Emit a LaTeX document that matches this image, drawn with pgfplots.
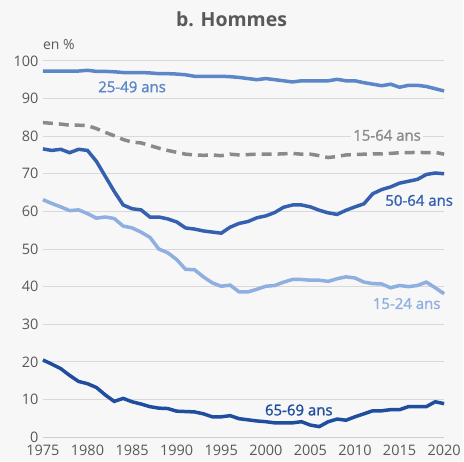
\documentclass[border=0pt]{standalone}
\usepackage{pgfplots}
\pgfplotsset{compat=1.18}
\usepackage{fontspec}
\setmainfont{Open Sans}
\newfontfamily\semib[FakeBold=1.3]{Open Sans}
\definecolor{bg}{HTML}{F7F7F7}
\definecolor{txt}{HTML}{595959}
\definecolor{grd}{HTML}{D9D9D9}
\definecolor{cA}{HTML}{5B87C9}
\definecolor{cB}{HTML}{3560B0}
\definecolor{cC}{HTML}{8FAFE0}
\definecolor{cD}{HTML}{1F4E9F}
\definecolor{cE}{HTML}{8A8A8A}
\begin{document}
\begin{tikzpicture}[x=1pt,y=1pt]
\fill[bg] (-43,-24) rectangle (421,438);
\begin{axis}[
  at={(0,0)}, anchor=south west,
  scale only axis, width=402pt, height=377pt,
  xmin=1975, xmax=2020, ymin=0, ymax=100,
  xtick={1975,1980,...,2020}, ytick={0,10,...,100},
  x tick label style={/pgf/number format/1000 sep={}},
  /pgf/number format/assume math mode=true,
  tick label style={font=\fontsize{14.5}{16}\selectfont, text=txt},
  xticklabel style={yshift=-4pt},
  yticklabel style={xshift=-1pt},
  major tick length=0pt,
  axis line style={draw=none},
  ymajorgrids, grid style={grd, line width=1pt},
  clip=false,
]
\draw[grd!80!black!60, line width=1pt] (axis cs:1975,0) -- (axis cs:2020,0);
% 15-64
\addplot[cE, line width=3.5pt, dash pattern=on 10pt off 6pt] coordinates {
(1975,83.6)(1976,83.4)(1977,83.2)(1978,82.9)(1979,82.9)(1980,82.8)(1981,82.0)(1982,81.0)(1983,80.1)(1984,79.1)(1985,78.4)(1986,78.2)(1987,77.5)(1988,76.8)(1989,76.2)(1990,75.7)(1991,75.2)(1992,75.0)(1993,74.9)(1994,75.0)(1995,74.8)(1996,75.2)(1997,75.0)(1998,75.1)(1999,75.2)(2000,75.2)(2001,75.2)(2002,75.3)(2003,75.4)(2004,75.2)(2005,75.2)(2006,74.8)(2007,74.3)(2008,74.6)(2009,75.0)(2010,75.1)(2011,75.2)(2012,75.3)(2013,75.3)(2014,75.4)(2015,75.6)(2016,75.6)(2017,75.7)(2018,75.6)(2019,75.7)(2020,75.2)};
% 25-49
\addplot[cA, line width=3.5pt] coordinates {
(1975,97.3)(1976,97.3)(1977,97.3)(1978,97.3)(1979,97.3)(1980,97.5)(1981,97.2)(1982,97.2)(1983,97.1)(1984,96.9)(1985,96.9)(1986,96.9)(1987,96.8)(1988,96.6)(1989,96.6)(1990,96.5)(1991,96.3)(1992,95.9)(1993,95.9)(1994,95.9)(1995,95.9)(1996,95.8)(1997,95.6)(1998,95.3)(1999,95.0)(2000,95.3)(2001,95.0)(2002,94.7)(2003,94.4)(2004,94.7)(2005,94.7)(2006,94.7)(2007,94.7)(2008,95.1)(2009,94.7)(2010,94.7)(2011,94.2)(2012,93.8)(2013,93.4)(2014,93.8)(2015,93.0)(2016,93.5)(2017,93.5)(2018,93.2)(2019,92.6)(2020,92.0)};
% 50-64
\addplot[cB, line width=3.5pt] coordinates {
(1975,76.6)(1976,76.2)(1977,76.5)(1978,75.6)(1979,76.5)(1980,76.2)(1981,73.3)(1982,69.3)(1983,65.3)(1984,61.7)(1985,60.7)(1986,60.4)(1987,58.5)(1988,58.5)(1989,58.0)(1990,57.2)(1991,55.6)(1992,55.3)(1993,54.8)(1994,54.5)(1995,54.2)(1996,55.8)(1997,56.8)(1998,57.3)(1999,58.3)(2000,58.8)(2001,59.7)(2002,61.1)(2003,61.7)(2004,61.7)(2005,61.2)(2006,60.3)(2007,59.6)(2008,59.2)(2009,60.3)(2010,61.2)(2011,62.0)(2012,64.7)(2013,65.8)(2014,66.5)(2015,67.5)(2016,68.0)(2017,68.5)(2018,69.8)(2019,70.2)(2020,70.0)};
% 15-24
\addplot[cC, line width=3.5pt] coordinates {
(1975,63.1)(1976,62.1)(1977,61.2)(1978,60.2)(1979,60.4)(1980,59.4)(1981,58.2)(1982,58.5)(1983,58.1)(1984,56.1)(1985,55.6)(1986,54.5)(1987,53.1)(1988,50.0)(1989,49.0)(1990,47.2)(1991,44.6)(1992,44.5)(1993,42.6)(1994,41.0)(1995,40.1)(1996,40.4)(1997,38.6)(1998,38.6)(1999,39.3)(2000,40.1)(2001,40.3)(2002,41.2)(2003,41.9)(2004,41.9)(2005,41.7)(2006,41.7)(2007,41.4)(2008,42.1)(2009,42.6)(2010,42.3)(2011,41.2)(2012,40.8)(2013,40.7)(2014,39.7)(2015,40.3)(2016,40.0)(2017,40.3)(2018,41.2)(2019,39.7)(2020,38.1)};
% 65-69
\addplot[cD, line width=3.5pt] coordinates {
(1975,20.5)(1976,19.4)(1977,18.2)(1978,16.4)(1979,14.8)(1980,14.2)(1981,13.2)(1982,11.2)(1983,9.5)(1984,10.3)(1985,9.4)(1986,8.8)(1987,8.1)(1988,7.7)(1989,7.6)(1990,6.9)(1991,6.8)(1992,6.7)(1993,6.2)(1994,5.4)(1995,5.4)(1996,5.7)(1997,4.9)(1998,4.6)(1999,4.3)(2000,4.1)(2001,3.8)(2002,3.8)(2003,3.8)(2004,4.1)(2005,3.2)(2006,2.8)(2007,4.1)(2008,4.8)(2009,4.5)(2010,5.4)(2011,6.2)(2012,7.0)(2013,7.0)(2014,7.3)(2015,7.3)(2016,8.1)(2017,8.1)(2018,8.1)(2019,9.4)(2020,8.9)};
% labels
\node[text=cA, font=\semib\fontsize{15}{17}\selectfont] at (axis cs:1985.0,93.1) {25-49 ans};
\node[text=cE, fill=bg, inner sep=2pt, font=\semib\fontsize{15}{17}\selectfont] at (axis cs:2013.6,80.2) {15-64 ans};
\node[text=cB, font=\semib\fontsize{15}{17}\selectfont] at (axis cs:2017.2,62.9) {50-64 ans};
\node[text=cC, font=\semib\fontsize{15}{17}\selectfont] at (axis cs:2015.8,35.5) {15-24 ans};
\node[text=cD, font=\semib\fontsize{15}{17}\selectfont] at (axis cs:2003.7,7.2) {65-69 ans};
\end{axis}
\node[text=txt, font=\bfseries\fontsize{19.5}{22}\selectfont] at (189,419) {b. Hommes};
\node[text=txt, anchor=west, inner sep=0pt, font=\fontsize{14}{16}\selectfont] at (0,393) {en \%};
\end{tikzpicture}
\end{document}
